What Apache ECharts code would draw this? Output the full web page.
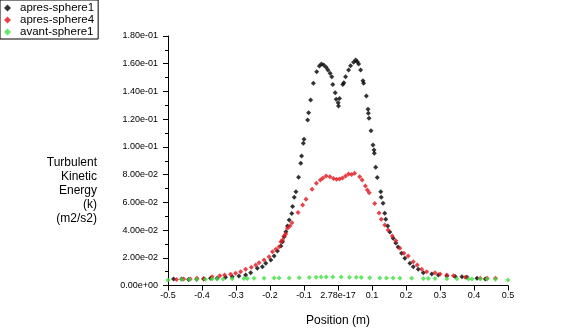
<!DOCTYPE html>
<html>
<head>
<meta charset="utf-8">
<script src="https://cdn.jsdelivr.net/npm/echarts@6/dist/echarts.min.js"></script>
<style>
  html, body { margin: 0; padding: 0; background: #fff; }
  #chart { width: 565px; height: 333px; }
</style>
</head>
<body>
<div id="chart"></div>
<script>
// Turbulent kinetic energy profiles along the sampling line: [position (m), k (m2/s2)]
const seriesNames = ['apres-sphere1', 'apres-sphere4', 'avant-sphere1'];

const apresSphere1 = [
  [-0.4837, 0.0047], [-0.460, 0.0047], [-0.4393, 0.0043], [-0.4157, 0.0045], [-0.395, 0.0047],
  [-0.375, 0.0052], [-0.3556, 0.0052], [-0.3308, 0.0059], [-0.3112, 0.0063], [-0.2914, 0.0069],
  [-0.2716, 0.0076], [-0.2568, 0.0092], [-0.2373, 0.0124], [-0.2225, 0.0136], [-0.2124, 0.0160],
  [-0.1976, 0.0184], [-0.1879, 0.0213], [-0.1781, 0.0249], [-0.1680, 0.0285], [-0.1633, 0.0316],
  [-0.1583, 0.0352], [-0.1533, 0.0388], [-0.1485, 0.0429], [-0.1435, 0.0473], [-0.1361, 0.0519],
  [-0.1337, 0.0570], [-0.1287, 0.0636], [-0.1237, 0.0677], [-0.1160, 0.0781], [-0.1095, 0.0882],
  [-0.1071, 0.0934], [-0.1021, 0.1026], [-0.1000, 0.1055], [-0.0893, 0.1194], [-0.0864, 0.1247],
  [-0.0805, 0.1338], [-0.0725, 0.1459], [-0.0627, 0.1542], [-0.0547, 0.1584], [-0.0488, 0.1598],
  [-0.0420, 0.1591], [-0.0349, 0.1574], [-0.0296, 0.1555], [-0.0231, 0.1531], [-0.0183, 0.1506],
  [-0.0154, 0.1451], [-0.0083, 0.1391], [-0.0053, 0.1343], [0.0006, 0.1319], [0.0015, 0.1295],
  [0.0044, 0.1350], [0.0142, 0.1451], [0.0172, 0.1463], [0.0222, 0.1506], [0.0311, 0.1555],
  [0.0370, 0.1586], [0.0459, 0.1610], [0.0518, 0.1627], [0.0568, 0.1615], [0.0607, 0.1598],
  [0.0666, 0.1555], [0.0734, 0.1477], [0.0754, 0.1459], [0.0834, 0.1367], [0.0882, 0.1271],
  [0.0893, 0.1242], [0.0911, 0.1206], [0.0970, 0.1117], [0.1030, 0.1014], [0.1059, 0.0978],
  [0.1068, 0.0954], [0.1109, 0.0853], [0.1154, 0.0779], [0.1257, 0.0677], [0.1272, 0.0636],
  [0.1325, 0.0593], [0.1375, 0.0521], [0.1405, 0.0478], [0.1464, 0.0429], [0.1524, 0.0386],
  [0.1621, 0.0341], [0.1701, 0.0307], [0.1769, 0.0278], [0.1870, 0.0232], [0.1967, 0.0196],
  [0.2115, 0.0160], [0.2213, 0.0136], [0.2361, 0.0117], [0.2509, 0.0092], [0.2757, 0.0083],
  [0.2953, 0.0076], [0.3201, 0.0069], [0.3447, 0.0065], [0.3645, 0.0063], [0.3793, 0.0059],
  [0.4089, 0.0052], [0.4334, 0.0047]
];

const apresSphere4 = [
  [-0.4749, 0.0043], [-0.4541, 0.0047], [-0.4343, 0.0047], [-0.4148, 0.0052], [-0.3950, 0.0050],
  [-0.3704, 0.0063], [-0.3476, 0.0071], [-0.3337, 0.0076], [-0.3160, 0.0081], [-0.3012, 0.0088],
  [-0.2864, 0.0100], [-0.2716, 0.0117], [-0.2550, 0.0131], [-0.2420, 0.0148], [-0.2322, 0.0164],
  [-0.2175, 0.0184], [-0.2027, 0.0208], [-0.1929, 0.0244], [-0.1828, 0.0261], [-0.1731, 0.0280],
  [-0.1680, 0.0316], [-0.1633, 0.0328], [-0.1583, 0.0357], [-0.1538, 0.0372], [-0.1485, 0.0413],
  [-0.1414, 0.0429], [-0.1355, 0.0453], [-0.1175, 0.0527], [-0.1041, 0.0581], [-0.0941, 0.0622],
  [-0.0763, 0.0695], [-0.0636, 0.0737], [-0.0518, 0.0761], [-0.0444, 0.0776], [-0.0349, 0.0790],
  [-0.0237, 0.0785], [-0.0133, 0.0772], [-0.0044, 0.0766], [0.0044, 0.0768], [0.0133, 0.0776],
  [0.0222, 0.0790], [0.0311, 0.0804], [0.0399, 0.0801], [0.0488, 0.0809], [0.0636, 0.0785],
  [0.0710, 0.0761], [0.0805, 0.0718], [0.0864, 0.0689], [0.0917, 0.0669], [0.1080, 0.0592],
  [0.1207, 0.0523], [0.1272, 0.0478], [0.1376, 0.0436], [0.1473, 0.0400], [0.1598, 0.0357],
  [0.1701, 0.0323], [0.1820, 0.0268], [0.1938, 0.0232], [0.2065, 0.0213], [0.2213, 0.0172],
  [0.2331, 0.0148], [0.2462, 0.0117], [0.2609, 0.0100], [0.2855, 0.0092], [0.3003, 0.0083],
  [0.3201, 0.0076], [0.3396, 0.0071], [0.3743, 0.0059], [0.4186, 0.0052], [0.4385, 0.0052],
  [0.4630, 0.0052]
];

const avantSphere1 = [
  [-0.5, 0.0040], [-0.4592, 0.0043], [-0.4364, 0.0043], [-0.4148, 0.0045], [-0.3899, 0.0045],
  [-0.3704, 0.0047], [-0.3556, 0.0047], [-0.3379, 0.0047], [-0.3112, 0.0049], [-0.2766, 0.0050],
  [-0.2669, 0.0050], [-0.2470, 0.0052], [-0.2175, 0.0052], [-0.1879, 0.0054], [-0.1731, 0.0054],
  [-0.1435, 0.0054], [-0.1139, 0.0056], [-0.0843, 0.0058], [-0.0645, 0.0059], [-0.0497, 0.0061],
  [-0.0349, 0.0061], [-0.0154, 0.0061], [0.0095, 0.0061], [0.0340, 0.0059], [0.0538, 0.0059],
  [0.0686, 0.0058], [0.0932, 0.0056], [0.1228, 0.0054], [0.1426, 0.0054], [0.1621, 0.0054],
  [0.1820, 0.0052], [0.2166, 0.0052], [0.2509, 0.0050], [0.2657, 0.0050], [0.2855, 0.0050],
  [0.3201, 0.0049], [0.3497, 0.0049], [0.3840, 0.0047], [0.3941, 0.0047], [0.4186, 0.0047],
  [0.4385, 0.0047], [0.4630, 0.0045], [0.5, 0.0040]
];

// Tick labels as printed by the solver's XY plot
const xTickLabels = ['-0.5', '-0.4', '-0.3', '-0.2', '-0.1', '2.78e-17', '0.1', '0.2', '0.3', '0.4', '0.5'];
const yTickLabels = ['0.00e+00', '2.00e-02', '4.00e-02', '6.00e-02', '8.00e-02', '1.00e-01',
                     '1.20e-01', '1.40e-01', '1.60e-01', '1.80e-01'];

const yTitle = 'Turbulent\nKinetic\nEnergy\n(k)\n(m2/s2)';
const xTitle = 'Position (m)';

const colors = ['#000000', '#e3141c', '#3fe03f'];
const FONT = '"Liberation Sans", Arial, Helvetica, sans-serif';

const chart = echarts.init(document.getElementById('chart'), null, { renderer: 'canvas' });

const dataSets = [apresSphere1, apresSphere4, avantSphere1];

chart.setOption({
  animation: false,
  backgroundColor: '#ffffff',
  textStyle: { fontFamily: FONT },
  legend: {
    orient: 'vertical',
    left: 0,
    top: 0,
    padding: [2, 4, 1, 4],
    itemGap: 0,
    itemWidth: 7,
    itemHeight: 7,
    icon: 'diamond',
    borderColor: '#000',
    borderWidth: 1,
    textStyle: { fontFamily: FONT, fontSize: 11.5, color: '#000', lineHeight: 10.5, padding: [0, 0, 0, 4] },
    data: seriesNames
  },
  grid: { left: 168, right: 57, top: 36, bottom: 47.5, containLabel: false },
  xAxis: {
    type: 'value',
    min: -0.5,
    max: 0.5,
    interval: 0.1,
    name: xTitle,
    nameLocation: 'middle',
    nameGap: 29,
    nameTextStyle: { fontFamily: FONT, fontSize: 12, color: '#000' },
    axisLine: { show: true, onZero: false, lineStyle: { color: '#000', width: 1 } },
    axisTick: { show: true, inside: false, length: 5, lineStyle: { color: '#000' } },
    splitLine: { show: false },
    axisLabel: {
      fontFamily: FONT, fontSize: 9, color: '#000', margin: 6,
      formatter: v => xTickLabels[Math.round((v + 0.5) / 0.1)]
    }
  },
  yAxis: {
    type: 'value',
    min: 0,
    max: 0.18,
    interval: 0.02,
    axisLine: { show: true, onZero: false, lineStyle: { color: '#000', width: 1 } },
    axisTick: { show: true, inside: false, length: 5, lineStyle: { color: '#000' } },
    minorTick: { show: true, splitNumber: 2, length: 3, lineStyle: { color: '#000' } },
    splitLine: { show: false },
    axisLabel: {
      fontFamily: FONT, fontSize: 9, color: '#000', margin: 10,
      formatter: v => yTickLabels[Math.round(v / 0.02)]
    }
  },
  graphic: [{
    type: 'text',
    x: 97,
    y: 156,
    style: {
      text: yTitle,
      fontFamily: FONT,
      fontSize: 12,
      lineHeight: 14,
      fill: '#000',
      align: 'right',
      verticalAlign: 'top'
    }
  }],
  series: seriesNames.map((name, i) => ({
    name,
    type: 'scatter',
    symbol: 'diamond',
    symbolSize: 5,
    itemStyle: { color: colors[i] },
    data: dataSets[i],
    z: 2
  }))
});
</script>
</body>
</html>
